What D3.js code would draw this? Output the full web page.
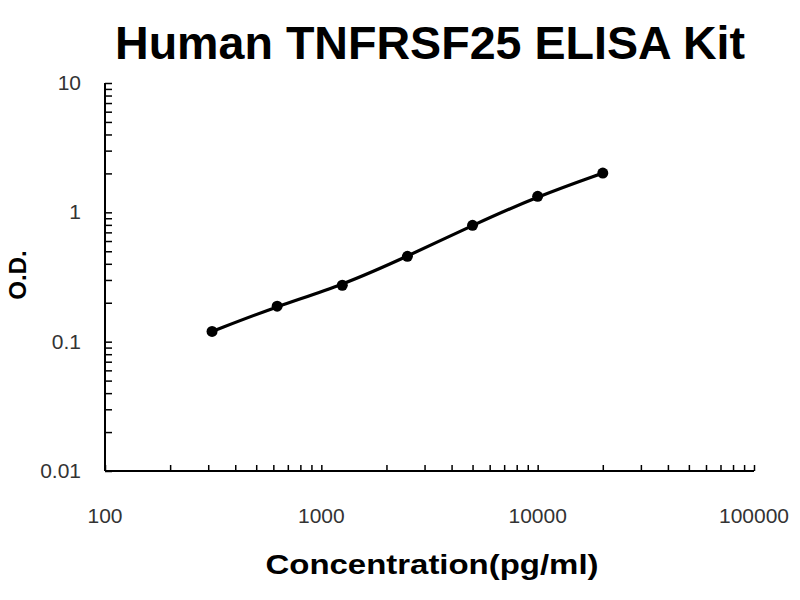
<!DOCTYPE html>
<html lang="en">

<head>
  <meta charset="UTF-8">
  <title>Human TNFRSF25 ELISA Kit</title>
  <style>
    * {
      margin: 0;
      padding: 0;
    }

    body {
      background: white;
      width: 800px;
      height: 600px;
      overflow: hidden;
    }

    svg text {
      font-family: "Liberation Sans", Arial, sans-serif;
    }
  </style>
  <script src="https://cdnjs.cloudflare.com/ajax/libs/d3/7.8.5/d3.min.js"></script>
</head>

<body>
  <svg id="chart" width="800" height="600"></svg>

  <script>
    // standard curve values
    const concentrations = [312.5, 625, 1250, 2500, 5000, 10000, 20000];
    const odValues = [0.12, 0.188, 0.273, 0.457, 0.794, 1.33, 2.01];
    const xTickValues = [100, 1000, 10000, 100000];
    const yTickValues = [0.01, 0.1, 1, 10];

    const svg = d3.select("#chart");

    const x = d3.scaleLog().domain([100, 100000]).range([105, 754]);
    const y = d3.scaleLog().domain([0.01, 10]).range([471, 83]);

    // minor ticks 2..9 in every decade
    function minorTicks(lo, hi) {
      const out = [];
      for (let d = lo; d < hi; d *= 10) {
        for (let k = 1; k <= 9; k++) out.push(d * k);
      }
      out.push(hi);
      return out;
    }

    // x axis, ticks pointing up into the plot
    const xAxis = d3.axisTop(x)
      .tickValues(minorTicks(100, 100000))
      .tickSize(6)
      .tickFormat("");

    svg.append("g")
      .attr("transform", "translate(0,471)")
      .call(xAxis)
      .call(g => g.select(".domain").attr("stroke-width", 2).attr("d", "M105,0H754"))
      .call(g => g.selectAll(".tick line").attr("stroke-width", 1.5));

    // y axis, ticks pointing right into the plot
    const yAxis = d3.axisRight(y)
      .tickValues(minorTicks(0.01, 10))
      .tickSize(7)
      .tickFormat("");

    svg.append("g")
      .attr("transform", "translate(105,0)")
      .call(yAxis)
      .call(g => g.select(".domain").attr("stroke-width", 2).attr("d", "M0,83V471"))
      .call(g => g.selectAll(".tick line").attr("stroke-width", 1.5));

    // tick labels
    svg.append("g").selectAll("text")
      .data(xTickValues)
      .enter().append("text")
      .attr("x", d => x(d))
      .attr("y", 523)
      .attr("text-anchor", "middle")
      .attr("font-size", 21)
      .attr("fill", "#333")
      .text(d => d);

    svg.append("g").selectAll("text")
      .data(yTickValues)
      .enter().append("text")
      .attr("x", 81)
      .attr("y", d => y(d) + 7)
      .attr("text-anchor", "end")
      .attr("font-size", 21)
      .attr("fill", "#333")
      .text(d => d);

    // fitted curve
    const line = d3.line()
      .x((d, i) => x(concentrations[i]))
      .y(d => y(d))
      .curve(d3.curveBasis);

    svg.append("path")
      .datum(odValues)
      .attr("d", line)
      .attr("fill", "none")
      .attr("stroke", "#000")
      .attr("stroke-width", 3.2);

    svg.append("g").selectAll("circle")
      .data(odValues)
      .enter().append("circle")
      .attr("cx", (d, i) => x(concentrations[i]))
      .attr("cy", d => y(d))
      .attr("r", 5.5)
      .attr("fill", "#000");

    // titles
    svg.append("text")
      .attr("x", 430)
      .attr("y", 59)
      .attr("text-anchor", "middle")
      .attr("font-size", 47)
      .attr("font-weight", "bold")
      .attr("textLength", 630)
      .attr("lengthAdjust", "spacingAndGlyphs")
      .text("Human TNFRSF25 ELISA Kit");

    svg.append("text")
      .attr("x", 432)
      .attr("y", 574)
      .attr("text-anchor", "middle")
      .attr("font-size", 28)
      .attr("font-weight", "bold")
      .attr("textLength", 333)
      .attr("lengthAdjust", "spacingAndGlyphs")
      .text("Concentration(pg/ml)");

    svg.append("text")
      .attr("transform", "translate(26,275) rotate(-90)")
      .attr("text-anchor", "middle")
      .attr("font-size", 24)
      .attr("font-weight", "bold")
      .text("O.D.");
  </script>
</body>

</html>
